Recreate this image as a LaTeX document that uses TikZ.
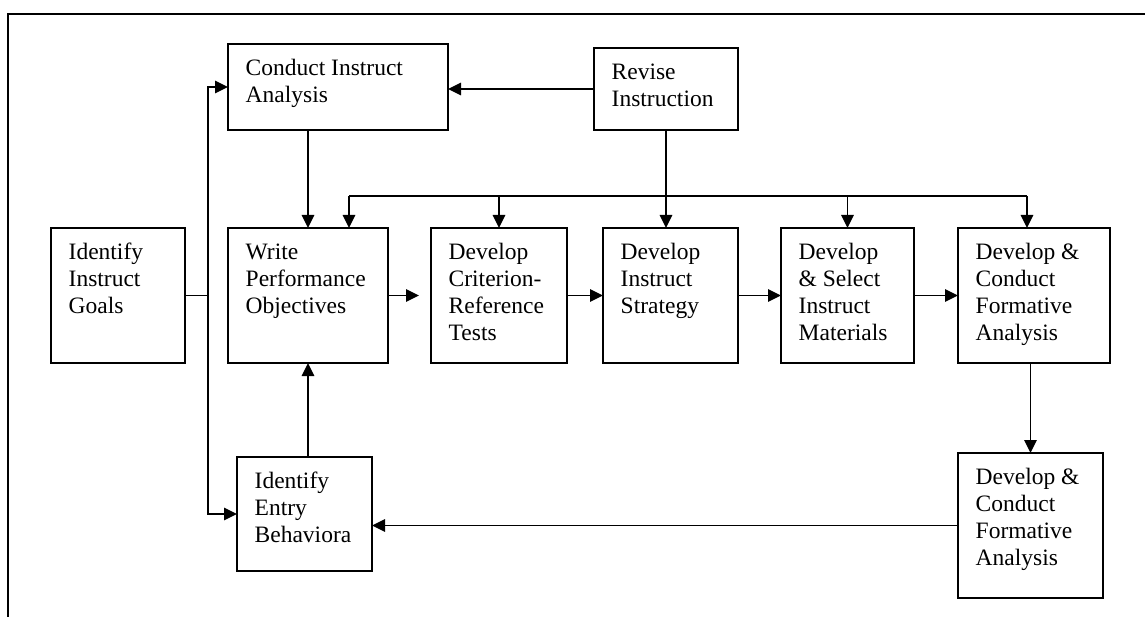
\documentclass[tikz,border=0pt]{standalone}
\usepackage{fontspec}
\setmainfont{Liberation Serif}
\usetikzlibrary{arrows.meta}
\begin{document}
\begin{tikzpicture}[x=1pt,y=-1pt,
  box/.style={draw, line width=1.7pt, rectangle, inner sep=0pt, outer sep=0pt},
  lbl/.style={anchor=north west, inner sep=0pt, align=left, font=\fontsize{23.5}{27}\selectfont, xshift=17.5pt, yshift=-12pt},
  conn/.style={line width=1.7pt},
  arr/.style={conn, -{Triangle[length=13pt,width=12.5pt]}}]
\useasboundingbox (0,0) rectangle (1145,617);
\draw[line width=2.5pt] (8,617) -- (8,14) -- (1145,14);
% boxes
\node[box, minimum width=220pt, minimum height=86pt] (cia) at (338,87) {};
\node[box, minimum width=144pt, minimum height=82pt] (rev) at (666,89) {};
\node[box, minimum width=134pt, minimum height=135pt] (goa) at (118,295.5) {};
\node[box, minimum width=160pt, minimum height=135pt] (wpo) at (308,295.5) {};
\node[box, minimum width=136pt, minimum height=135pt] (crt) at (499,295.5) {};
\node[box, minimum width=135pt, minimum height=135pt] (dis) at (670.5,295.5) {};
\node[box, minimum width=133pt, minimum height=135pt] (mat) at (847.5,295.5) {};
\node[box, minimum width=152pt, minimum height=135pt] (frm) at (1034,295.5) {};
\node[box, minimum width=135pt, minimum height=114pt] (ent) at (304.5,514) {};
\node[box, minimum width=145pt, minimum height=145pt] (fr2) at (1030.5,525.5) {};
% texts
\node[lbl] (tcia) at (cia.north west) {\strut Conduct Instruct\\Analysis};
\node[lbl] (trev) at (rev.north west) {\strut Revise\\Instruction};
\node[lbl] (tgoa) at (goa.north west) {\strut Identify\\Instruct\\Goals};
\node[lbl] (twpo) at (wpo.north west) {\strut Write\\Performance\\Objectives};
\node[lbl] (tcrt) at (crt.north west) {\strut Develop\\Criterion-\\Reference\\Tests};
\node[lbl] (tdis) at (dis.north west) {\strut Develop\\Instruct\\Strategy};
\node[lbl] (tmat) at (mat.north west) {\strut Develop\\\& Select\\Instruct\\Materials};
\node[lbl] (tfrm) at (frm.north west) {\strut Develop \&\\Conduct\\Formative\\Analysis};
\node[lbl] (tent) at (ent.north west) {\strut Identify\\Entry\\Behaviora};
\node[lbl] (tfr2) at (fr2.north west) {\strut Develop \&\\Conduct\\Formative\\Analysis};
% connectors
\draw[arr] (rev.west) -- (rev.west -| cia.east);
\draw[arr] (cia.south -| wpo.north) -- (wpo.north);
\draw[arr] (rev.south) -- (rev.south |- dis.north);
\coordinate (busL) at (349,196);
\coordinate (busR) at (1027,196);
\draw[conn] (busL) -- (busR);
\draw[arr] (busL) -- (busL |- wpo.north);
\draw[arr] (busL -| crt.north) -- (crt.north);
\draw[arr] (busL -| mat.north) -- (mat.north);
\draw[arr] (busR) -- (busR |- frm.north);
\draw[arr, shorten >=12pt] (wpo.east) -- (crt.west);
\draw[arr] (crt.east) -- (dis.west);
\draw[arr] (dis.east) -- (mat.west);
\draw[arr] (mat.east) -- (frm.west);
\path (goa.east) -- ++(23,0) coordinate (split);
\draw[conn] (goa.east) -- (split);
\draw[arr] (split) |- (cia.west);
\draw[arr] (split) |- (ent.west);
\draw[arr] (ent.north -| wpo.south) -- (wpo.south);
\draw[arr] (frm.south -| fr2.north) -- (fr2.north);
\draw[arr] (fr2.west) -- (fr2.west -| ent.east);
\end{tikzpicture}
\end{document}
